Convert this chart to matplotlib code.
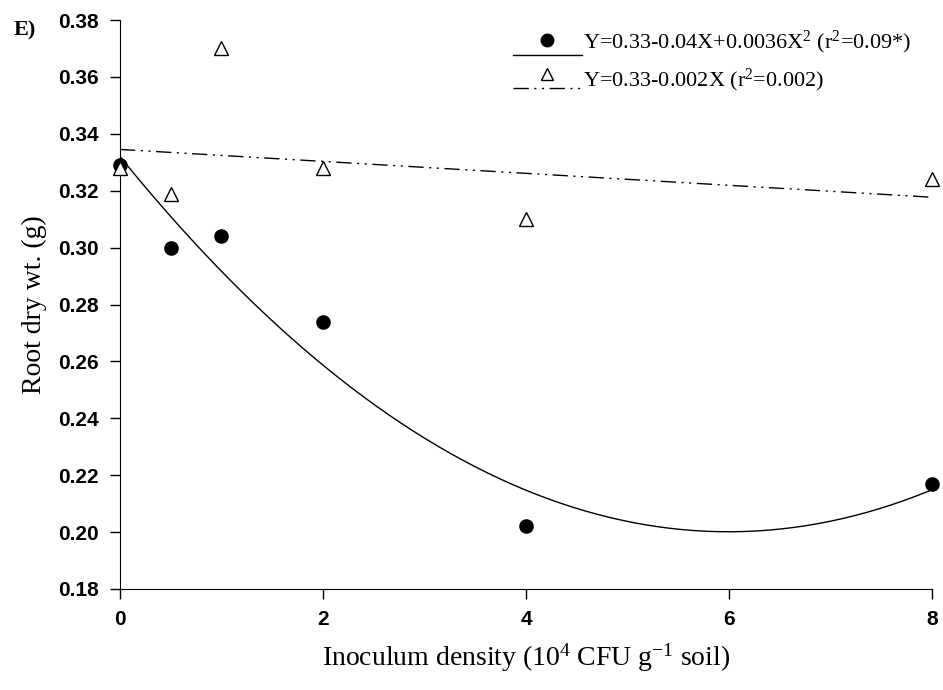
import numpy as np
import matplotlib
matplotlib.use('Agg')
import matplotlib.pyplot as plt

# datos
densidad = [0, 0.5, 1, 2, 4, 8]
peso_circulos = [0.329, 0.300, 0.304, 0.274, 0.202, 0.217]
peso_triangulos = [0.328, 0.319, 0.370, 0.328, 0.310, 0.324]

# coeficientes de las curvas ajustadas (orden polyval)
coef_cuadratica = [0.00367, -0.044, 0.332]
coef_lineal = [-0.0021, 0.3345]

texto_cuad = r'Y=0.33-0.04X+0.0036X$^2$ (r$^2$=0.09*)'
texto_lin = r'Y=0.33-0.002X (r$^2$=0.002)'

plt.rcParams['mathtext.fontset'] = 'custom'
plt.rcParams['mathtext.rm'] = 'Liberation Serif'
plt.rcParams['mathtext.it'] = 'Liberation Serif:italic'

W, H = 943, 690
fig = plt.figure(figsize=(W / 100, H / 100), dpi=100)
ax = fig.add_axes([120 / W, 1 - 589 / H, 812 / W, 569 / H])

xs = np.linspace(0, 8, 200)
ax.plot(xs, np.polyval(coef_cuadratica, xs), color='black', lw=1.0)
ax.plot(xs, np.polyval(coef_lineal, xs), color='black', lw=1.0,
        dashes=(11, 4, 1.5, 4, 1.5, 4))

ax.plot(densidad, peso_circulos, 'o', color='black', ms=9.5, zorder=3,
        clip_on=False)
ax.plot(densidad, peso_triangulos, '^', mfc='white', mec='black', mew=1.0,
        ms=9.5, zorder=4, clip_on=False)

ax.set_xlim(0, 8)
ax.set_ylim(0.18, 0.38)
ax.set_xticks([0, 2, 4, 6, 8])
ax.set_yticks(np.arange(0.18, 0.381, 0.02))
ax.yaxis.set_major_formatter(matplotlib.ticker.FormatStrFormatter('%.2f'))
ax.spines['top'].set_visible(False)
ax.spines['right'].set_visible(False)
ax.tick_params(direction='out', length=7, width=1, labelsize=15, pad=8)
for lbl in ax.get_xticklabels() + ax.get_yticklabels():
    lbl.set_fontfamily('Liberation Sans')
    lbl.set_fontweight('bold')
ax.set_xlim(0, 8)
ax.set_ylim(0.18, 0.38)

ax.set_xlabel('Inoculum density (10$^4$ CFU g$^{-1}$ soil)',
              family='Liberation Serif', fontsize=20, labelpad=9)
ax.set_ylabel('Root dry wt. (g)', family='Liberation Serif', fontsize=20,
              labelpad=8)

fig.text(14 / W, 1 - 30 / H, 'E)', family='Liberation Serif', fontsize=16,
         fontweight='bold', va='center', ha='left')

# leyenda dibujada a mano, como en el original
def px(x, y):
    return x / W, 1 - y / H

tf = fig.transFigure
fila1, fila2 = 42, 80
x0, x1, xm = 513, 582, 547
ax.plot(*zip(px(x0, fila1 + 13), px(x1, fila1 + 13)), transform=tf,
        color='black', lw=1.0, clip_on=False)
ax.plot(*px(xm, fila1 - 2), 'o', color='black', ms=9, transform=tf,
        clip_on=False)
ax.plot(*zip(px(x0, fila2 + 8), px(x1, fila2 + 8)), transform=tf,
        color='black', lw=1.0, dashes=(11, 4, 1.5, 4, 1.5, 4), clip_on=False)
ax.plot(*px(xm, fila2 - 6), '^', mfc='white', mec='black', ms=9,
        transform=tf, clip_on=False)
fig.text(*px(583, fila1), texto_cuad, family='Liberation Serif',
         fontsize=16, va='center', ha='left')
fig.text(*px(583, fila2), texto_lin, family='Liberation Serif',
         fontsize=16, va='center', ha='left')

fig.savefig('out.png', dpi=100)
